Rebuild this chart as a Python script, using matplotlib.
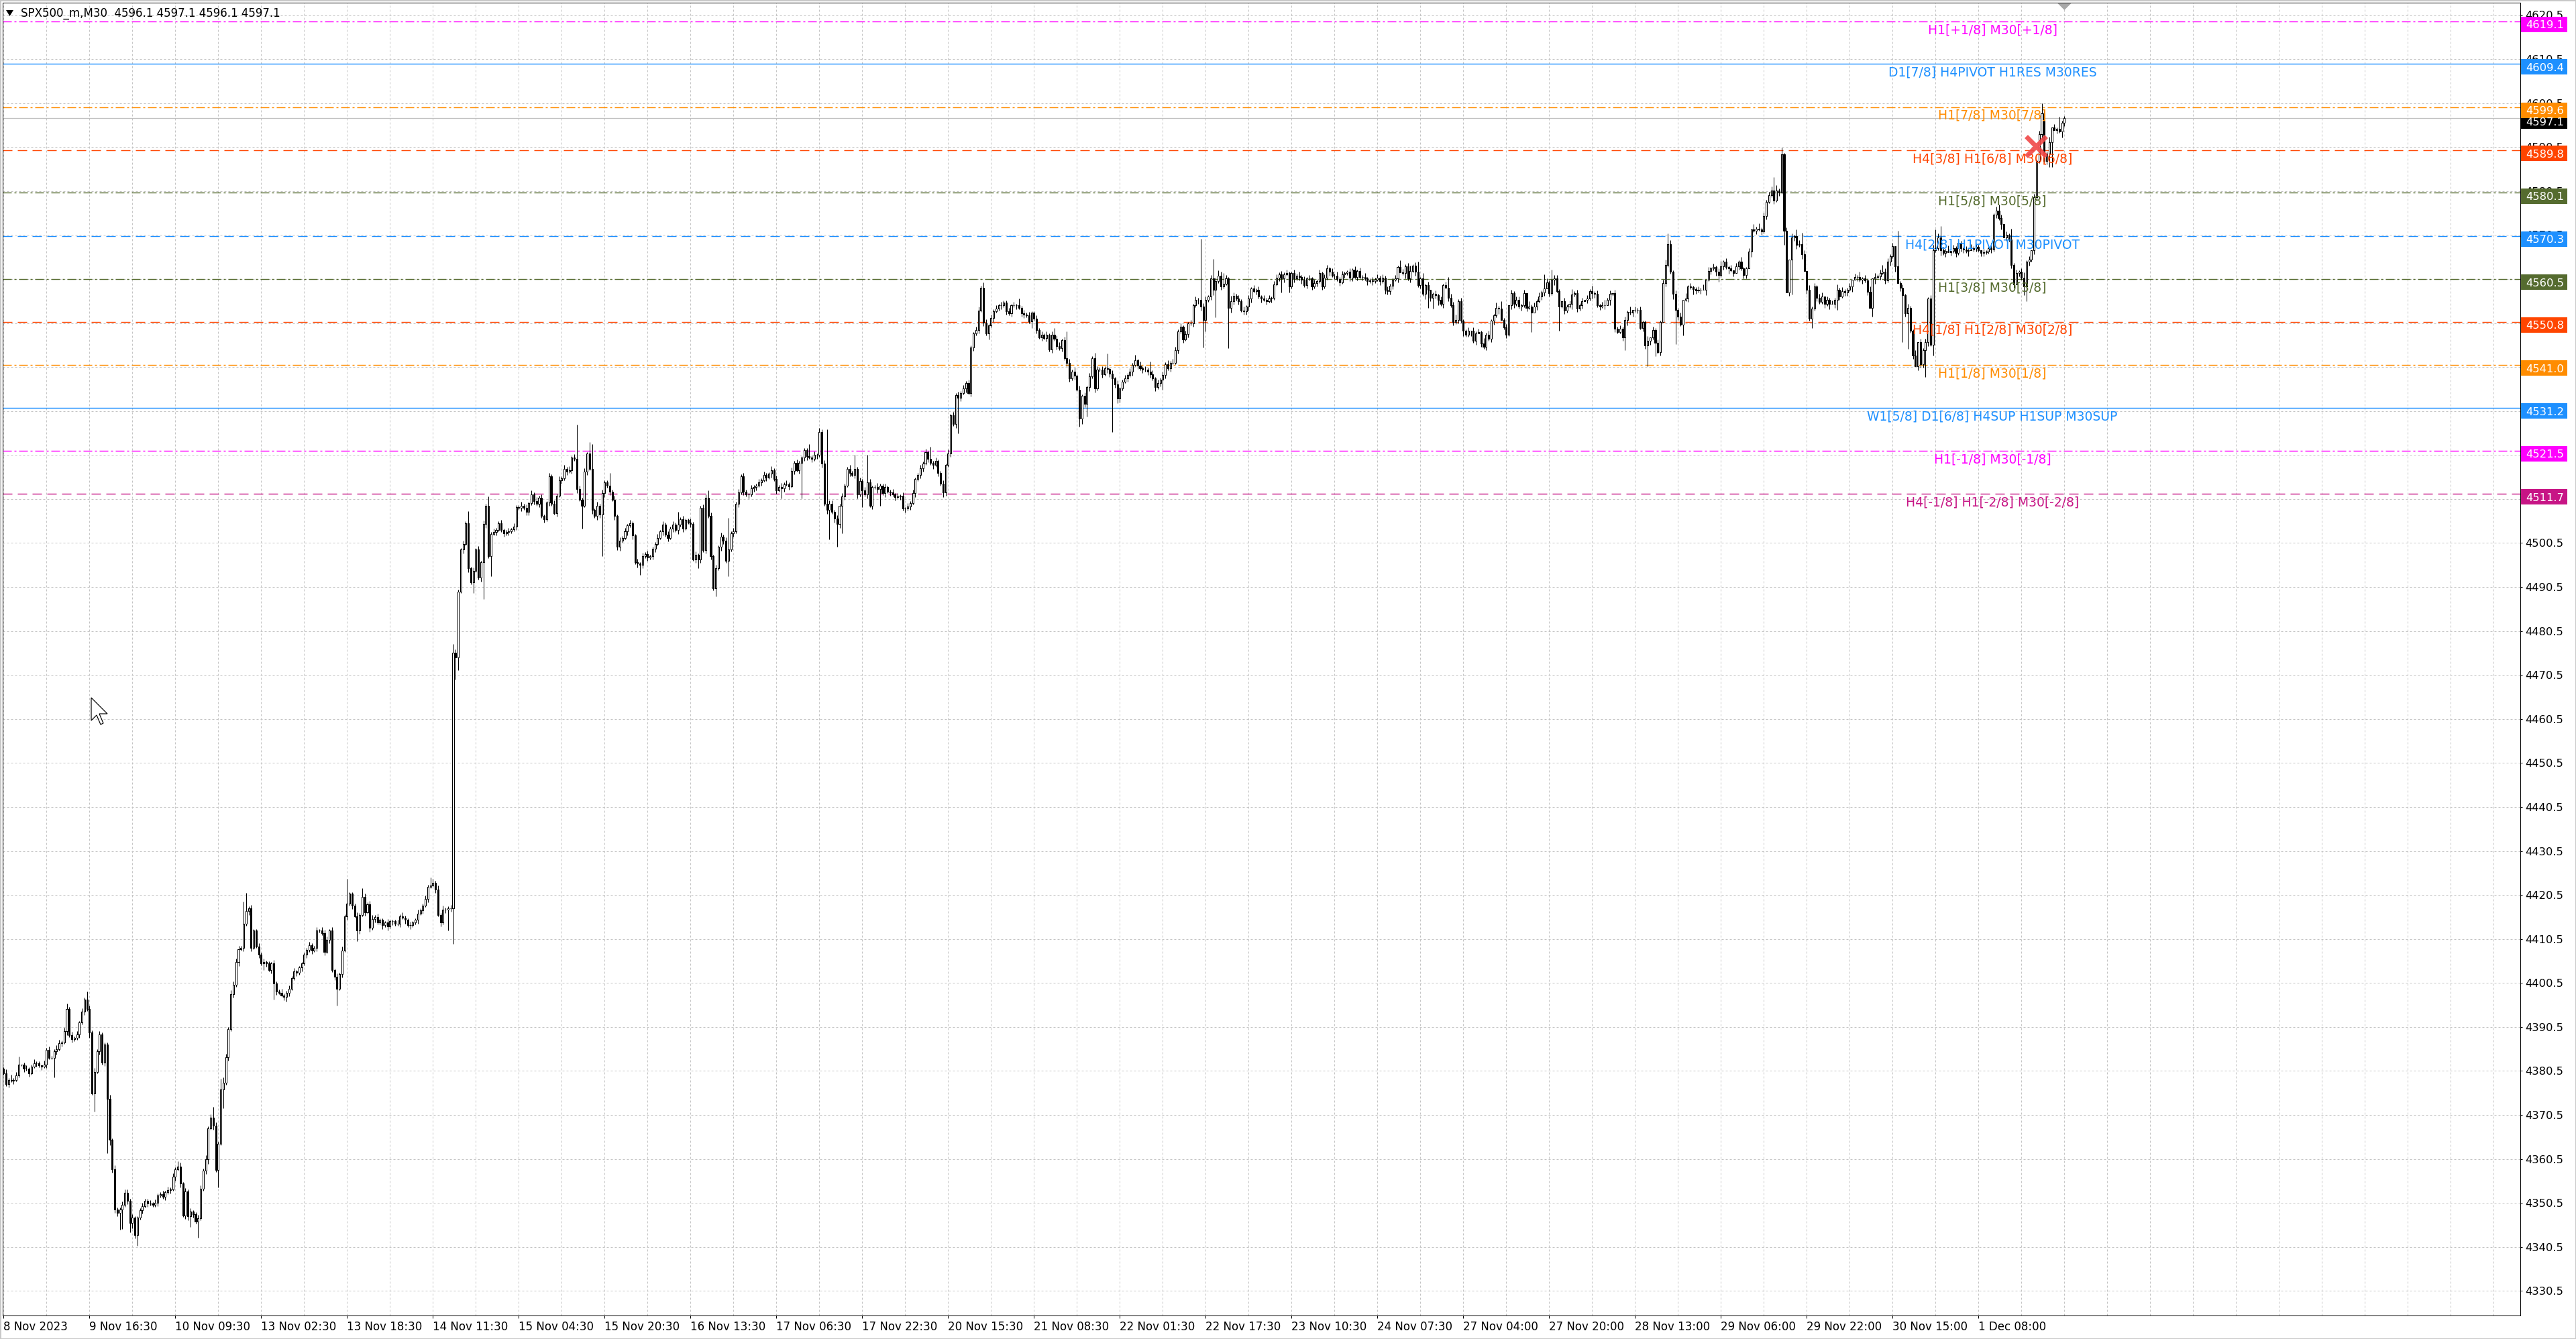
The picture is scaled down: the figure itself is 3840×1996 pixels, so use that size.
import numpy as np
import matplotlib
matplotlib.use("Agg")
import matplotlib.pyplot as plt
from matplotlib.patches import Rectangle, Polygon
from matplotlib.collections import LineCollection, PatchCollection
from matplotlib.transforms import blended_transform_factory

plt.rcParams['font.family'] = ['DejaVu Sans']
plt.rcParams['lines.scale_dashes'] = False

# ---------------- data ----------------
title_text = "SPX500_m,M30  4596.1 4597.1 4596.1 4597.1"
first_open = 4381.0

close_a = [
    4380.0, 4377.5, 4378.5, 4378.3, 4378.5, 4379.5, 4382.0, 4382.0, 4381.0, 4381.0,
    4380.0, 4381.5, 4382.3, 4382.3, 4381.8, 4381.5, 4382.0, 4385.3, 4383.5, 4383.5,
    4385.0, 4385.5, 4386.8, 4387.0, 4389.5, 4394.6, 4388.6, 4387.7, 4388.0, 4388.8,
    4391.5, 4394.0, 4396.8, 4394.6, 4389.3, 4375.4, 4380.3, 4385.0, 4388.8, 4382.4,
    4386.5, 4374.2, 4364.8, 4358.2, 4349.0, 4348.3, 4349.0, 4350.0, 4352.8, 4351.0,
    4346.0, 4347.1, 4343.2, 4347.1, 4348.9, 4349.8, 4351.0, 4350.4, 4350.3, 4350.0,
    4350.5, 4352.2, 4352.5, 4351.9, 4352.9, 4353.4, 4353.6, 4356.4, 4358.2, 4358.8,
    4354.9, 4347.7, 4353.1, 4347.4, 4348.5, 4348.0, 4346.2, 4347.0, 4353.7, 4357.9,
    4360.5, 4367.5, 4369.9, 4368.0, 4358.0, 4364.0, 4376.3, 4377.8, 4383.6, 4390.0,
    4398.0, 4400.1, 4405.2, 4408.2, 4408.5, 4413.9, 4416.8, 4417.5, 4408.5, 4412.4,
    4408.8, 4407.0, 4404.9, 4405.2, 4405.0, 4403.5, 4404.9, 4400.4, 4398.6, 4398.3,
    4397.7, 4397.4, 4398.3, 4399.2, 4401.6, 4403.1, 4402.8, 4404.0, 4404.9, 4407.0,
    4408.0, 4409.1, 4407.9, 4408.5, 4412.4, 4412.4, 4411.8, 4407.6, 4410.3, 4412.4,
    4403.4, 4401.9, 4399.2, 4402.5, 4407.9, 4415.7, 4418.5, 4420.8, 4418.1, 4415.7,
    4412.4, 4416.0, 4420.0, 4416.6, 4418.4, 4413.0, 4415.1, 4415.5, 4414.2, 4414.8,
    4413.6, 4414.2, 4413.3, 4414.5, 4414.5, 4413.9, 4414.0, 4415.7, 4415.4, 4414.8,
    4413.6, 4413.6, 4414.2, 4414.8, 4416.3, 4417.0, 4418.1, 4419.6, 4422.4, 4422.7,
    4423.3, 4421.8, 4416.0, 4414.2, 4417.2, 4417.2, 4417.5, 4417.5,
]
close_b = [
    4475.5, 4474.5, 4489.5, 4499.0, 4500.3, 4505.0, 4494.7, 4491.5, 4494.2, 4499.0,
    4492.6, 4496.1, 4504.8, 4509.0, 4497.5, 4502.6, 4503.0, 4503.5, 4505.0, 4503.4,
    4502.7, 4503.0, 4503.1, 4503.6, 4504.2, 4508.7, 4508.5, 4509.0, 4508.5, 4507.6,
    4509.5, 4511.6, 4510.1, 4509.4, 4510.8, 4506.6, 4505.9, 4509.7, 4515.7, 4509.4,
    4507.3, 4511.3, 4514.8, 4515.2, 4517.4, 4516.8, 4517.1, 4519.9, 4519.6, 4512.7,
    4510.4, 4509.0, 4516.7, 4520.8, 4517.4, 4508.0, 4506.6, 4509.0, 4507.0, 4511.8,
    4514.3, 4513.5, 4512.2, 4510.4, 4506.6, 4499.6, 4501.0, 4501.7, 4503.1, 4504.5,
    4505.0, 4502.2, 4496.1, 4495.8, 4495.5, 4497.5, 4498.0, 4497.2, 4497.5, 4499.2,
    4500.3, 4501.7, 4503.1, 4504.7, 4502.4, 4501.7, 4503.8, 4504.7, 4503.4, 4504.7,
    4505.9, 4503.8, 4505.7, 4505.2, 4504.9, 4496.8, 4497.8, 4496.8, 4508.5, 4498.9,
    4510.8, 4506.6, 4497.5, 4490.2, 4494.7, 4499.6, 4502.0, 4501.0, 4496.4, 4499.0,
    4502.7, 4503.1, 4509.4, 4512.0, 4515.7, 4512.2, 4511.5, 4511.5, 4512.9, 4513.3,
    4513.6, 4514.3, 4514.8, 4516.0, 4515.4, 4516.2, 4517.1, 4515.0, 4512.5, 4513.3,
    4512.9, 4513.9, 4513.9, 4513.4, 4516.9, 4518.7, 4517.1, 4518.7, 4519.9, 4521.6,
    4520.2, 4520.0, 4519.6, 4520.5, 4520.5, 4525.8, 4518.5, 4509.4, 4508.0, 4509.4,
    4507.6, 4506.0, 4504.8, 4509.0, 4511.1, 4513.6, 4517.4, 4516.5, 4516.0, 4517.4,
    4511.5, 4514.6, 4512.5, 4511.5, 4514.3, 4509.0, 4513.2, 4513.3, 4512.7, 4513.6,
    4511.8, 4513.2, 4512.2, 4512.0, 4511.5, 4511.0, 4511.1, 4511.2, 4508.3, 4508.3,
    4508.8, 4509.6, 4511.8, 4515.0, 4516.0, 4517.5,
]
close_c = [
    4518.6, 4521.1, 4519.7, 4518.7, 4518.2, 4519.1, 4516.5, 4514.0, 4512.0, 4518.2,
    4520.9, 4529.5, 4527.5, 4534.1, 4533.5, 4534.6, 4535.6, 4536.9, 4534.6, 4545.0,
    4548.1, 4548.9, 4553.4, 4558.5, 4550.6, 4548.1, 4549.9, 4551.6, 4553.2, 4553.8,
    4554.5, 4554.5, 4555.2, 4553.2, 4552.7, 4554.5, 4554.5, 4554.5, 4554.0, 4552.7,
    4552.4, 4552.2, 4550.9, 4552.8, 4551.5, 4548.9, 4547.3, 4547.8, 4547.1, 4547.8,
    4544.5, 4547.8, 4546.9, 4545.3, 4544.8, 4546.6, 4542.5, 4541.5, 4537.9, 4539.5,
    4538.5, 4535.4, 4528.8, 4533.9, 4532.1, 4535.9, 4538.4, 4542.5, 4535.6, 4539.9,
    4539.9, 4538.9, 4540.2, 4540.0, 4539.0, 4537.9, 4536.6, 4533.3, 4535.6, 4537.2,
    4537.9, 4538.7, 4539.4, 4541.0, 4542.0, 4540.9, 4540.2, 4539.9, 4539.9, 4539.5,
    4538.9, 4537.9, 4535.9, 4536.9, 4537.7, 4538.7, 4541.2, 4540.2, 4541.5, 4541.5,
    4544.3, 4548.6, 4549.6, 4546.8, 4548.0, 4550.4, 4550.4, 4554.5, 4555.7, 4555.8,
    4554.2, 4551.2, 4555.7, 4556.5, 4560.6, 4558.0, 4560.0, 4561.3, 4558.8, 4559.5,
    4560.6, 4554.0, 4555.5, 4556.7, 4556.0, 4555.5, 4553.4, 4553.2, 4554.2, 4556.0,
    4558.3, 4557.8, 4558.0, 4556.5, 4556.0, 4555.8, 4555.5, 4556.0, 4556.2, 4559.3,
    4560.8, 4561.6, 4560.6, 4561.6, 4561.8, 4558.8, 4561.8, 4560.6, 4561.3, 4561.0,
    4560.3, 4559.1, 4560.6, 4560.6, 4558.8, 4559.6, 4560.0, 4561.8, 4558.8, 4560.8,
    4562.9, 4562.1, 4561.3, 4561.3, 4560.5, 4559.8, 4561.6, 4561.8, 4562.1, 4560.8,
    4562.6, 4561.0, 4562.3, 4561.0, 4561.0, 4560.6, 4560.0, 4560.2, 4560.0, 4560.4,
    4560.8, 4560.0, 4560.8, 4558.0, 4557.8, 4559.0,
]
close_d = [
    4560.4, 4560.6, 4563.2, 4562.0, 4561.8, 4563.4, 4560.6, 4562.4, 4563.5, 4562.1,
    4559.1, 4560.6, 4557.1, 4559.1, 4558.0, 4556.3, 4557.1, 4556.8, 4555.8, 4554.8,
    4559.1, 4558.5, 4556.3, 4554.5, 4550.7, 4551.2, 4555.5, 4551.0, 4548.7, 4547.8,
    4548.7, 4548.7, 4546.4, 4548.2, 4548.4, 4545.9, 4545.1, 4547.9, 4546.9, 4551.0,
    4552.2, 4554.0, 4553.8, 4551.2, 4549.5, 4547.9, 4554.5, 4557.3, 4554.8, 4555.8,
    4554.2, 4554.5, 4557.3, 4554.0, 4554.3, 4552.8, 4554.3, 4555.5, 4556.6, 4557.5,
    4558.3, 4559.8, 4557.3, 4560.4, 4560.6, 4557.8, 4554.3, 4555.5, 4553.3, 4554.3,
    4554.8, 4557.0, 4557.3, 4553.8, 4554.6, 4555.5, 4555.8, 4556.0, 4557.8, 4557.3,
    4557.1, 4554.5, 4554.3, 4554.5, 4554.6, 4555.8, 4557.1, 4557.3, 4549.2, 4548.5,
    4549.2, 4547.2, 4551.2, 4553.0, 4552.8, 4553.5, 4553.5, 4553.5, 4549.4, 4550.7,
    4545.4, 4546.4, 4547.2, 4548.9, 4546.0, 4543.9, 4550.7, 4559.6, 4563.7, 4568.5,
    4562.1, 4557.1, 4553.5, 4552.0, 4550.2, 4555.8, 4556.1, 4558.8, 4558.6, 4558.2,
    4557.9, 4558.0, 4558.1, 4558.1, 4560.4, 4562.4, 4562.9, 4563.2, 4562.1, 4561.4,
    4563.4, 4564.4, 4563.2, 4562.9, 4562.5, 4561.9, 4563.4, 4564.4, 4562.9, 4561.4,
    4562.9, 4566.7, 4571.8, 4571.5, 4572.0, 4571.8, 4571.3, 4574.8, 4578.1, 4579.5,
    4580.7, 4578.4, 4580.7, 4580.2, 4588.8, 4571.5, 4557.5, 4564.9, 4570.0, 4570.2,
    4568.2, 4568.5, 4566.2, 4562.4, 4558.0, 4551.5, 4553.8, 4558.8, 4556.3, 4555.3,
    4556.6, 4554.8, 4555.8, 4554.8, 4554.8, 4555.8, 4558.1, 4556.6, 4557.8, 4557.5,
    4558.1, 4558.8, 4560.4, 4560.9, 4560.9, 4560.3,
]
close_e = [
    4560.6, 4560.2, 4557.6, 4554.0, 4560.6, 4561.0, 4561.1, 4561.9, 4562.1, 4560.2,
    4564.4, 4565.7, 4568.0, 4563.4, 4559.6, 4558.5, 4556.8, 4552.7, 4554.0, 4548.7,
    4543.1, 4540.6, 4546.1, 4541.1, 4544.4, 4546.1, 4556.0, 4545.6, 4567.0, 4567.5,
    4570.0, 4567.0, 4566.4, 4566.9, 4566.6, 4566.9, 4567.5, 4566.4, 4568.8, 4567.5,
    4567.2, 4566.9, 4567.0, 4567.2, 4567.5, 4567.8, 4567.1, 4566.5, 4566.6, 4566.7,
    4567.5, 4567.2, 4575.1, 4576.1, 4574.3, 4573.0, 4570.0, 4570.5, 4569.5, 4563.7,
    4559.3, 4561.9, 4562.1, 4560.8, 4558.8, 4564.4, 4564.9, 4567.0, 4579.1, 4587.3,
    4593.4, 4598.2, 4587.3, 4589.0, 4591.6, 4594.9, 4594.4, 4594.6, 4594.1, 4596.1,
    4597.1,
]

# small wicks beyond the body, in units of 0.4 points, one digit per bar
wick_up_a = ("1213121012 1121102121 1221231212 1213212121 1121211222 1211121121 2112121211 "
             "2121211221 2121211321 2222132121 1212111211 2112121111 1211212221 2121212111 "
             "2112122121 1121112121 1211211211 21212112")
wick_dn_a = ("1121211121 2112121211 1212121211 2121312121 2132221212 1322121211 1211212121 "
             "2122321211 2312121212 1212121221 1211212121 1212112121 2121211212 1221212121 "
             "1212121211 2121211212 1211212121 12121212")
wick_up_b = ("1211212121 2121212112 1121211212 1212121121 2121212121 2121211212 1121212121 "
             "2112121211 1212121212 1211212112 2121212121 1212121121 1212112121 2121212111 "
             "1212121212 2121211212 1212121121 1211212121 212112")
wick_dn_b = ("2121212121 1212121211 2121121212 2121212121 1212121212 1212121221 2121212112 "
             "1212121212 2112121212 1211212121 2121212212 1212121212 2121212121 1212121212 "
             "2121212121 1212121212 2121212121 1212121212 121212")
wick_up_c = ("1212121121 2121212121 1221321212 1211212121 2121121212 1212212121 2121212132 "
             "1212121211 2121212121 1212121212 2121212121 1221212321 2132121212 1212121212 "
             "2121211212 1212121212 2121212112 1212121121 212121")
wick_dn_c = ("2121212112 1212121212 2121212121 1212121212 2112121212 1212121221 2123212121 "
             "1212212121 1212121212 2121212121 1212121212 2121232121 1212121212 2121212121 "
             "1212121212 2121212121 1212121212 2121212121 121212")
wick_up_d = ("1210212312 2131201212 1212231211 2021213121 1312120212 2120312121 1213121021 "
             "2312120213 1212312021 2121302121 1302121231 2121203121 1213021212 3121202131 "
             "1202131212 2131212021 1212031212 2021213121 120213")
wick_dn_d = ("2120131212 1213021231 2021212131 1312021212 2130121221 1212130212 2021312121 "
             "1312120213 2121203121 1203121212 2121312021 1302121213 2120312121 1213120212 "
             "2031212121 1212130212 2130212121 1213021212 213021")
wick_up_e = ("1213021212 2120312121 1302121231 2121302121 1213121021 2312120213 1212312021 "
             "2121302121 1")
wick_dn_e = ("2120131212 1213021231 2021212131 1312021212 2130121221 1212130212 2021312121 "
             "1312120213 2")

# long wicks: bar index -> price
spike_highs = {6: 4383.8, 25: 4395.6, 33: 4398.6, 69: 4360.0, 83: 4372.4, 86: 4378.8, 95: 4419.0,
               96: 4420.9, 136: 4424.2, 142: 4422.1, 169: 4424.5, 178: 4477.6, 184: 4507.8,
               192: 4511.1, 227: 4527.4, 232: 4523.4, 233: 4523.0, 240: 4516.4, 267: 4507.6,
               279: 4512.5, 287: 4506.2, 293: 4516.0, 317: 4517.4, 319: 4523.0, 324: 4526.4,
               326: 4526.4, 337: 4520.6, 342: 4520.6, 367: 4522.4, 388: 4559.3, 402: 4556.0,
               416: 4549.4, 421: 4548.6, 437: 4543.5, 448: 4543.2, 454: 4541.7, 466: 4548.6,
               474: 4569.7, 479: 4565.0, 483: 4561.8, 525: 4563.0, 534: 4563.0, 553: 4564.7,
               560: 4564.4, 572: 4560.9, 593: 4555.5, 599: 4556.3, 610: 4561.6, 613: 4562.7,
               614: 4561.4, 644: 4554.0, 659: 4570.9, 668: 4559.1, 681: 4564.6, 693: 4573.0,
               698: 4575.8, 701: 4583.7, 704: 4590.4, 710: 4571.8, 712: 4571.0, 734: 4561.4,
               744: 4563.7, 750: 4571.5, 765: 4571.8, 767: 4572.5, 790: 4577.4, 795: 4572.0,
               807: 4600.5, 814: 4597.4}
spike_lows = {20: 4379.0, 36: 4371.2, 41: 4361.8, 46: 4344.4, 47: 4344.6, 50: 4343.8, 53: 4340.7,
              74: 4345.0, 77: 4342.6, 85: 4354.0, 87: 4372.0, 103: 4403.4, 107: 4396.8,
              112: 4396.2, 132: 4395.3, 140: 4410.0, 176: 4412.4, 178: 4409.4, 179: 4469.5,
              180: 4471.6, 186: 4489.1, 190: 4487.7, 193: 4493.0, 229: 4503.8, 235: 4506.0,
              237: 4497.5, 243: 4498.9, 252: 4493.3, 273: 4496.5, 275: 4494.7, 281: 4496.4,
              282: 4488.4, 287: 4493.0, 308: 4510.6, 316: 4510.6, 327: 4501.3, 330: 4499.6,
              332: 4502.7, 340: 4508.7, 347: 4509.0, 372: 4511.0, 378: 4525.4, 390: 4546.8,
              407: 4549.4, 415: 4544.0, 426: 4527.0, 429: 4529.3, 439: 4525.7, 441: 4532.3,
              456: 4535.1, 459: 4535.4, 475: 4545.0, 476: 4548.6, 480: 4551.8, 485: 4544.8,
              486: 4552.9, 492: 4552.4, 506: 4557.5, 509: 4557.5, 548: 4557.0, 564: 4554.0,
              566: 4553.8, 579: 4548.7, 586: 4544.9, 595: 4547.7, 605: 4548.4, 616: 4548.7,
              642: 4544.4, 651: 4540.7, 654: 4543.0, 662: 4545.7, 665: 4547.7, 679: 4559.9,
              705: 4568.2, 708: 4557.0, 716: 4549.4, 726: 4553.5, 740: 4552.0, 752: 4546.1,
              754: 4544.6, 758: 4539.8, 759: 4540.3, 761: 4538.3, 764: 4543.1, 800: 4556.8,
              801: 4555.5, 810: 4586.0, 811: 4586.0, 815: 4592.6}

level_prices = [4619.1, 4609.4, 4599.6, 4589.8, 4580.1, 4570.3, 4560.5, 4550.8, 4541.0, 4531.2,
                4521.5, 4511.7]
level_names = ["H1[+1/8] M30[+1/8]", "D1[7/8] H4PIVOT H1RES M30RES", "H1[7/8] M30[7/8]",
               "H4[3/8] H1[6/8] M30[6/8]", "H1[5/8] M30[5/8]", "H4[2/8] H1PIVOT M30PIVOT",
               "H1[3/8] M30[3/8]", "H4[1/8] H1[2/8] M30[2/8]", "H1[1/8] M30[1/8]",
               "W1[5/8] D1[6/8] H4SUP H1SUP M30SUP", "H1[-1/8] M30[-1/8]",
               "H4[-1/8] H1[-2/8] M30[-2/8]"]
level_colors = ["#FF00FF", "#1E90FF", "#FF8C00", "#FF4500", "#556B2F", "#1E90FF", "#556B2F",
                "#FF4500", "#FF8C00", "#1E90FF", "#FF00FF", "#C71585"]
level_styles = ["dashdot", "solid", "dashdot", "dashed", "dashdot", "dashed", "dashdot", "dashed",
                "dashdot", "solid", "dashdot", "dashed"]
current_price = 4597.1

time_labels = ["8 Nov 2023", "9 Nov 16:30", "10 Nov 09:30", "13 Nov 02:30", "13 Nov 18:30",
               "14 Nov 11:30", "15 Nov 04:30", "15 Nov 20:30", "16 Nov 13:30", "17 Nov 06:30",
               "17 Nov 22:30", "20 Nov 15:30", "21 Nov 08:30", "22 Nov 01:30", "22 Nov 17:30",
               "23 Nov 10:30", "24 Nov 07:30", "27 Nov 04:00", "27 Nov 20:00", "28 Nov 13:00",
               "29 Nov 06:00", "29 Nov 22:00", "30 Nov 15:00", "1 Dec 08:00"]
deal_bar, deal_price = 804.7, 4590.7

# ---------------- layout ----------------
W, H, DPI = 3840, 1996, 100
PX = 72.0 / DPI
fig = plt.figure(figsize=(W / DPI, H / DPI), dpi=DPI, facecolor="white")
AX_L, AX_R, AX_T, AX_B = 4.0, 3756.7, 4.0, 1961.0
ax = fig.add_axes([AX_L / W, 1 - AX_B / H, (AX_R - AX_L) / W, (AX_B - AX_T) / H])
ax.set_facecolor("white")
BAR_PX = 64.0 / 17.0
X0_PX = 5.4
PT_PX = 6.558
x_lo = (AX_L - X0_PX) / BAR_PX
x_hi = (AX_R - X0_PX) / BAR_PX
y_hi = 4620.5 + (22.5 - AX_T) / PT_PX
y_lo = 4620.5 - (AX_B - 22.5) / PT_PX
ax.set_xlim(x_lo, x_hi)
ax.set_ylim(y_lo, y_hi)

def frac_x(px):
    return (px - AX_L) / (AX_R - AX_L)

# ---------------- candles ----------------
close = np.array(close_a + close_b + close_c + close_d + close_e, dtype=float)
n = len(close)
opens = np.concatenate([[first_open], close[:-1]])

def digits(*parts):
    return np.array([int(c) for c in "".join("".join(p.split()) for p in parts)], dtype=float)

wu = digits(wick_up_a, wick_up_b, wick_up_c, wick_up_d, wick_up_e) * 0.4
wd = digits(wick_dn_a, wick_dn_b, wick_dn_c, wick_dn_d, wick_dn_e) * 0.4
if len(wu) != n or len(wd) != n:
    raise ValueError(f"wick lengths {len(wu)} {len(wd)} vs {n}")
hi = np.maximum(opens, close) + wu
lo = np.minimum(opens, close) - wd
for k, v in spike_highs.items():
    hi[k] = max(hi[k], v)
for k, v in spike_lows.items():
    lo[k] = min(lo[k], v)

wicks = LineCollection([((i, lo[i]), (i, hi[i])) for i in range(n)], colors="black",
                       linewidths=PX, zorder=3)
ax.add_collection(wicks)
bw = 0.55
rects, fcs = [], []
for i in range(n):
    b0, b1 = min(opens[i], close[i]), max(opens[i], close[i])
    rects.append(Rectangle((i - bw / 2, b0), bw, b1 - b0))
    fcs.append("white" if close[i] >= opens[i] else "black")
ax.add_collection(PatchCollection(rects, facecolors=fcs, edgecolors="black", linewidths=PX,
                                  zorder=4))

# ---------------- grid ----------------
grid_dash = (0, (3 * PX, 3 * PX))
yt = np.arange(4330.5, 4621.0, 10.0)
ax.hlines(yt, x_lo, x_hi, colors="#C4C4C4", linewidths=PX, linestyles=[grid_dash], zorder=0.5)
xg = np.arange(0, x_hi, 17)
ax.vlines(xg, y_lo, y_hi, colors="#C4C4C4", linewidths=PX, linestyles=[grid_dash], zorder=0.5)

# ---------------- level lines ----------------
dash_map = {"solid": "-", "dashed": (0, (14 * PX, 8 * PX)),
            "dashdot": (0, (13 * PX, 4 * PX, 3 * PX, 4 * PX))}
blend = blended_transform_factory(ax.transAxes, ax.transData)
ax.axhline(current_price, color="#C0C0C0", lw=1.3 * PX, zorder=1.6)
for p, name, col, st in zip(level_prices, level_names, level_colors, level_styles):
    ax.axhline(p, color=col, lw=1.4 * PX, linestyle=dash_map[st], zorder=1.7)
    ax.annotate(name, xy=(frac_x(2970), p), xycoords=blend, xytext=(0, -2.4),
                textcoords="offset points", ha="center", va="top", color=col,
                fontsize=13.5, zorder=5, annotation_clip=False)

# deal marker
ax.plot([deal_bar], [deal_price], marker="x", ms=22, mew=5.0, color="#F04848", alpha=0.9,
        zorder=6, linestyle="none")

# ---------------- axes / ticks ----------------
for s in ax.spines.values():
    s.set_linewidth(PX)
    s.set_color("black")
ax.yaxis.tick_right()
ax.set_yticks(yt)
ax.set_yticklabels([f"{v:.1f}" for v in yt])
ax.tick_params(axis="y", direction="out", length=3 * PX, width=PX, pad=5 * PX,
               labelsize=11.8, colors="black")
xt = np.arange(len(time_labels)) * 34
ax.set_xticks(xt)
ax.set_xticklabels(time_labels)
ax.tick_params(axis="x", direction="out", length=4 * PX, width=PX, pad=4 * PX, labelsize=12)
for lbl in ax.get_xticklabels():
    lbl.set_ha("left")

# price boxes on the right scale
box_h = 23.0 / PT_PX
box_off = 4.7 / PT_PX
box_x0, box_x1 = frac_x(3758), frac_x(3827)
box_items = [(current_price, "black")] + list(zip(level_prices, level_colors))
for p, col in box_items:
    yc = p - box_off
    ax.add_patch(Rectangle((box_x0, yc - box_h / 2), box_x1 - box_x0, box_h, transform=blend,
                           facecolor=col, edgecolor="none", clip_on=False, zorder=7))
    ax.annotate(f"{p:.1f}", xy=(frac_x(3765), yc), xycoords=blend, xytext=(0, -4.3),
                textcoords="offset points", ha="left", va="baseline", color="white",
                fontsize=11.8, zorder=8, annotation_clip=False)

# ---------------- chrome ----------------
fig.text(31 / W, 1 - 25 / H, title_text, fontsize=12, color="black", va="baseline", ha="left")
fig.add_artist(Polygon([(9 / W, 1 - 15 / H), (20 / W, 1 - 15 / H), (14.5 / W, 1 - 24 / H)],
                       closed=True, transform=fig.transFigure, facecolor="black",
                       edgecolor="none"))
last_x = (X0_PX + (n - 1) * BAR_PX)
fig.add_artist(Polygon([((last_x - 10) / W, 1 - 5 / H), ((last_x + 10) / W, 1 - 5 / H),
                        (last_x / W, 1 - 15 / H)], closed=True, transform=fig.transFigure,
                       facecolor="#A8A8A8", edgecolor="none"))
# mouse pointer
cur = [(0, 0), (0, 17), (4, 13), (7, 20), (9, 19), (6, 12), (12, 12)]
cx, cy, sc = 136, 1040, 2.0
fig.add_artist(Polygon([((cx + sc * a) / W, 1 - (cy + sc * b) / H) for a, b in cur], closed=True,
                       transform=fig.transFigure, facecolor="white", edgecolor="black",
                       linewidth=1.2 * PX))
fig.add_artist(Rectangle((0, 0), 1, 1, transform=fig.transFigure, fill=False,
                         edgecolor="#C8C8C8", linewidth=3 * PX))

fig.savefig("out.png", dpi=DPI, facecolor="white")
